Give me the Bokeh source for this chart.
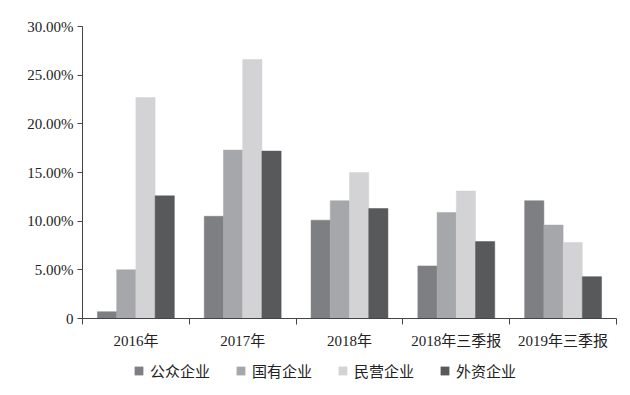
from bokeh.plotting import figure
from bokeh.models import (ColumnDataSource, Range1d, FixedTicker, Legend, LegendItem)
from bokeh.layouts import column
from bokeh.embed import file_html
from bokeh.resources import INLINE
import numpy as np

categories = ["2016年", "2017年", "2018年", "2018年三季报", "2019年三季报"]
series_names = ["公众企业", "国有企业", "民营企业", "外资企业"]
public_vals = [0.7, 10.5, 10.1, 5.4, 12.1]
state_vals = [5.0, 17.3, 12.1, 10.9, 9.6]
private_vals = [22.7, 26.6, 15.0, 13.1, 7.8]
foreign_vals = [12.6, 17.2, 11.3, 7.9, 4.3]
colors = ["#7e7f83", "#a6a7aa", "#d3d3d5", "#58595b"]
y_ticks = [0, 5, 10, 15, 20, 25, 30]

FONT = "Liberation Serif, Noto Sans CJK SC"

p = figure(width=630, height=350, frame_width=534, frame_height=292,
           output_backend="svg", toolbar_location=None,
           x_range=Range1d(0, len(categories)), y_range=Range1d(0, 30),
           min_border_left=82, min_border_right=14, min_border_top=26,
           min_border_bottom=32)
p.outline_line_color = None
p.grid.visible = False
p.background_fill_color = "white"
p.border_fill_color = "white"

centers = np.arange(len(categories)) + 0.5
bw = 0.18
offsets = [-1.5 * bw, -0.5 * bw, 0.5 * bw, 1.5 * bw]
for vals, off, col in zip([public_vals, state_vals, private_vals, foreign_vals], offsets, colors):
    src = ColumnDataSource(dict(x=centers + off, top=vals))
    p.vbar(x="x", top="top", width=bw, bottom=0, source=src,
           fill_color=col, line_color=col, line_width=0.5)

# Y axis
p.yaxis.ticker = FixedTicker(ticks=y_ticks)
p.yaxis.major_label_overrides = {t: ("0" if t == 0 else f"{t:.2f}%") for t in y_ticks}
p.yaxis.minor_tick_line_color = None
p.yaxis.major_tick_out = 5
p.yaxis.major_tick_in = 0
p.yaxis.axis_line_color = "#444444"
p.yaxis.major_tick_line_color = "#444444"
p.yaxis.major_label_text_font = FONT
p.yaxis.major_label_text_font_size = "15px"
p.yaxis.major_label_text_color = "#222222"
p.yaxis.major_label_standoff = 4

# X axis: labels at centers, ticks at boundaries
p.xaxis.ticker = FixedTicker(ticks=list(centers),
                             minor_ticks=list(range(len(categories) + 1)))
p.xaxis.major_label_overrides = {float(c): cat for c, cat in zip(centers, categories)}
p.xaxis.major_tick_line_color = None
p.xaxis.major_tick_out = 0
p.xaxis.minor_tick_out = 6
p.xaxis.minor_tick_in = 0
p.xaxis.minor_tick_line_color = "#444444"
p.xaxis.axis_line_color = "#444444"
p.xaxis.major_label_text_font = FONT
p.xaxis.major_label_text_font_size = "15px"
p.xaxis.major_label_text_color = "#222222"
p.xaxis.major_label_standoff = 8

# Legend strip
lg = figure(width=630, height=45, output_backend="svg", toolbar_location=None,
            x_range=Range1d(0, 1), y_range=Range1d(0, 1),
            min_border=0, min_border_left=0, min_border_right=0,
            min_border_top=0, min_border_bottom=0)
lg.xaxis.visible = False
lg.yaxis.visible = False
lg.grid.visible = False
lg.outline_line_color = None
lg.background_fill_color = "white"
lg.border_fill_color = "white"
lg_renderers = []
for col in colors:
    r = lg.vbar(x=[0.5], bottom=[0.5], top=[0.5], width=0,
                fill_color=col, line_color=col, line_alpha=0)
    lg_renderers.append(r)

legend = Legend(items=[LegendItem(label=n, renderers=[r]) for n, r in zip(series_names, lg_renderers)],
                orientation="horizontal", location=(51, 15),
                padding=0, margin=0, spacing=25,
                glyph_width=11, glyph_height=11, label_standoff=6,
                label_text_font=FONT, label_text_font_size="15px",
                label_text_color="#222222",
                border_line_color=None, background_fill_alpha=0)
lg.add_layout(legend, "center")

layout = column(p, lg, spacing=0)
open("out.html", "w").write(file_html(layout, INLINE))
